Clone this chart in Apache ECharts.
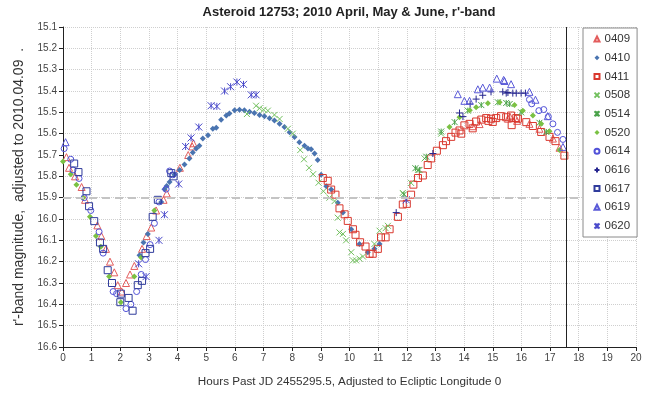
<!DOCTYPE html>
<html>
<head>
<meta charset="utf-8">
<script src="https://cdn.jsdelivr.net/npm/echarts@6/dist/echarts.min.js"></script>
<style>
html,body{margin:0;padding:0;background:#fff}
#chart{width:651px;height:393px}
</style>
</head>
<body>
<div id="chart"></div>
<script>
// Phased r'-band photometry of asteroid 12753, one array per night: [hours, magnitude]
var n0409 = [[0.12,15.71],[0.21,15.76],[0.42,15.80],[0.65,15.85],[0.77,15.91],[1.20,16.03],[1.34,16.08],[1.50,16.14],[1.64,16.20],[1.79,16.25],[1.91,16.31],[2.05,16.34],[2.20,16.30],[2.34,16.26],[2.49,16.22],[2.76,16.14],[2.92,16.08],[3.08,16.04],[3.25,15.96],[3.51,15.91],[3.62,15.88],[4.08,15.76],[4.37,15.70],[4.51,15.66],[4.55,15.645],
  [14.30,15.565],[14.54,15.555],[15.53,15.53],[15.60,15.52],[15.79,15.527],[15.85,15.54],[16.28,15.554],[16.63,15.577],[17.10,15.623],[17.33,15.666]];
var n0410 = [[2.67,16.17],[2.81,16.11],[2.96,16.07],[3.43,15.92],[3.54,15.86],[3.62,15.845],[3.72,15.827],[3.89,15.793],[4.07,15.77],[4.24,15.744],[4.41,15.716],[4.53,15.688],[4.65,15.67],[4.76,15.657],[4.88,15.623],[5.06,15.608],[5.23,15.577],[5.35,15.572],[5.52,15.535],[5.70,15.515],[5.81,15.505],[5.99,15.49],[6.16,15.488],[6.33,15.49],[6.51,15.497],[6.68,15.503],[6.86,15.512],[7.03,15.518],[7.21,15.528],[7.38,15.538],[7.56,15.554],[7.73,15.569],[7.91,15.593],[8.08,15.616],[8.25,15.64],[8.43,15.657],[8.55,15.669],[8.66,15.673],[8.78,15.693],[8.89,15.723],[9.01,15.793],[9.19,15.847],[9.36,15.862],[9.59,15.924],[9.77,15.97],[10.06,16.048],[10.35,16.117],[10.64,16.156],[10.87,16.14],[11.05,16.117]];
var n0411 = [[9.07,15.808],[9.24,15.821],[9.36,15.862],[9.51,15.886],[9.65,15.95],[9.83,15.978],[9.94,16.009],[10.12,16.048],[10.21,16.074],[10.37,16.109],[10.56,16.129],[10.70,16.163],[10.81,16.163],[10.99,16.14],[11.10,16.086],[11.26,16.086],[11.40,16.048],[11.69,15.99],[11.86,15.932],[12.0,15.929],[12.15,15.886],[12.23,15.839],[12.39,15.808],[12.56,15.796],[12.73,15.747],[12.85,15.716],[13.05,15.68],[13.26,15.654],[13.37,15.635],[13.55,15.615],[13.70,15.595],[13.84,15.585],[13.90,15.60],[14.01,15.561],[14.19,15.554],[14.30,15.575],[14.42,15.543],[14.60,15.534],[14.77,15.527],[14.85,15.54],[14.94,15.53],[15.00,15.545],[15.12,15.527],[15.29,15.518],[15.47,15.523],[15.64,15.515],[15.66,15.56],[15.82,15.527],[15.88,15.53],[16.17,15.546],[16.40,15.564],[16.69,15.592],[16.98,15.615],[17.19,15.635],[17.50,15.703]];
var n0508 = [[6.42,15.508],[6.74,15.469],[6.86,15.481],[7.00,15.488],[7.15,15.492],[7.38,15.512],[7.56,15.531],[7.85,15.577],[8.02,15.60],[8.28,15.677],[8.41,15.72],[8.59,15.76],[8.73,15.79],[8.92,15.83],[9.09,15.87],[9.30,15.90],[9.48,15.916],[9.59,15.994],[9.65,16.063],[9.77,16.07],[9.88,16.10],[10.06,16.156],[10.12,16.194],[10.23,16.194],[10.35,16.186],[10.47,16.176],[10.87,16.117],[11.05,16.055],[11.26,16.043],[11.34,16.032],[11.86,15.878],[12.15,15.831],[12.39,15.77],[12.62,15.716],[13.20,15.60]];
var n0514 = [[11.90,15.885],[12.30,15.762],[12.44,15.77],[12.68,15.708],[13.20,15.59],[13.67,15.546],[14.13,15.492],[14.60,15.466],[15.18,15.453],[15.47,15.456],[15.59,15.461],[15.99,15.50],[16.63,15.549],[16.87,15.592]];
var n0520 = [[0.00,15.73],[0.27,15.79],[0.47,15.84],[0.70,15.90],[0.94,15.99],[1.15,16.08],[1.32,16.13],[1.61,16.27],[2.02,16.39],[2.49,16.27],[2.73,16.18],[3.19,15.96],
  [13.49,15.569],[13.84,15.523],[14.20,15.49],[14.42,15.476],[14.83,15.458],[15.24,15.453],[15.76,15.466],[16.05,15.492],[16.40,15.515],[16.69,15.554],[16.98,15.589],[17.33,15.677]];
var n0614 = [[0.04,15.67],[0.27,15.72],[0.35,15.77],[0.56,15.81],[0.74,15.90],[0.97,15.96],[1.26,16.06],[1.40,16.16],[1.75,16.34],[1.87,16.35],[2.20,16.42],[2.37,16.40],[2.57,16.34],[2.73,16.26],[2.88,16.19],[3.04,16.12],[3.19,16.02],[3.35,15.92],[3.60,15.86],[3.72,15.775],[3.83,15.793],
  [16.28,15.44],[16.36,15.46],[16.61,15.492],[16.78,15.487],[16.94,15.52],[17.10,15.554],[17.26,15.594],[17.45,15.627]];
var n0616 = [[11.63,15.97],[12.91,15.693],[13.84,15.503],[13.96,15.52],[14.21,15.461],[14.42,15.438],[14.65,15.42],[14.94,15.404],[15.35,15.404],[15.47,15.41],[15.53,15.407],[15.70,15.41],[15.82,15.41],[15.99,15.41],[16.14,15.41]];
var n0617 = [[0.39,15.74],[0.54,15.78],[0.82,15.87],[0.91,15.94],[1.09,16.01],[1.29,16.11],[1.40,16.14],[1.56,16.24],[1.71,16.30],[2.00,16.39],[2.02,16.35],[2.29,16.37],[2.43,16.43],[2.61,16.31],[2.76,16.29],[2.88,16.16],[3.04,16.14],[3.13,15.99],[3.31,15.91],[3.78,15.785],[3.86,15.80]];
var n0619 = [[0.09,15.64],[13.78,15.415],[14.01,15.446],[14.19,15.446],[14.48,15.392],[14.65,15.384],[14.89,15.384],[15.14,15.342],[15.38,15.348],[15.41,15.353],[15.64,15.368],[16.28,15.404],[16.49,15.441],[16.92,15.518],[17.45,15.662]];
var n0620 = [[2.64,16.21],[2.90,16.27],[3.35,16.10],[3.54,15.98],[4.04,15.836],[4.28,15.66],[4.47,15.62],[4.74,15.569],[5.17,15.469],[5.37,15.472],[5.64,15.40],[5.85,15.38],[6.07,15.358],[6.30,15.369],[6.57,15.418],[6.74,15.418],[11.98,15.91]];

var nights = ['0409','0410','0411','0508','0514','0520','0614','0616','0617','0619','0620'];
var nightData = [n0409,n0410,n0411,n0508,n0514,n0520,n0614,n0616,n0617,n0619,n0620];

// Reference levels: mean magnitude and the end of one rotation period
var meanMag = 15.9;
var periodEnd = 17.55;

var CROSS = 'path://M0,0L10,10M10,0L0,10';
var PLUS = 'path://M5,0L5,10M0,5L10,5';
var STAR = 'path://M0,0L10,10M10,0L0,10M5,0L5,10';

// marker look per night: [symbol, size, colour, filled]
var looks = {
  '0409': ['triangle', 7, '#e35d5d', false],
  '0410': ['diamond', 6, '#4a74b0', true],
  '0411': ['rect', 7, '#d9382e', false],
  '0508': [CROSS, 6, '#72c05e', false],
  '0514': [STAR, 6, '#4aa24a', false],
  '0520': ['diamond', 6, '#7ac143', true],
  '0614': ['circle', 6, '#5252d8', false],
  '0616': [PLUS, 7, '#26268f', false],
  '0617': ['rect', 7, '#303c9c', false],
  '0619': ['triangle', 7, '#5a5ad8', false],
  '0620': [STAR, 7, '#4a4acb', false]
};

var FONT = '"Liberation Sans", Arial, sans-serif';

var series = nights.map(function (name, i) {
  var l = looks[name];
  return {
    name: name,
    type: 'scatter',
    data: nightData[i],
    symbol: l[0],
    symbolSize: l[1],
    itemStyle: l[3]
      ? { color: l[2], borderWidth: 0, opacity: 1 }
      : { color: 'none', borderColor: l[2], borderWidth: 1, opacity: 1 },
    emphasis: { disabled: true },
    z: 3
  };
});

series.push({
  name: 'ref',
  type: 'scatter',
  data: [],
  z: 2,
  markLine: {
    silent: true,
    symbol: 'none',
    animation: false,
    label: { show: false },
    data: [
      { yAxis: meanMag, lineStyle: { color: '#c4c4c4', width: 2, type: [8, 5] } },
      { xAxis: periodEnd, lineStyle: { color: '#222', width: 1, type: 'solid' } }
    ]
  }
});

var chart = echarts.init(document.getElementById('chart'), null, { renderer: 'canvas' });
chart.setOption({
  animation: false,
  backgroundColor: '#ffffff',
  textStyle: { fontFamily: FONT },
  grid: { left: 63, top: 27, right: 15, bottom: 42, containLabel: false },
  graphic: [{
    type: 'text',
    x: 349, y: 12,
    style: {
      text: "Asteroid 12753; 2010 April, May & June, r'-band",
      font: 'bold 13px ' + FONT,
      fill: '#222',
      textAlign: 'center',
      textVerticalAlign: 'middle'
    }
  }],
  legend: {
    data: nights,
    orient: 'vertical',
    left: 583, top: 28,
    padding: [5, 7, 5, 9],
    itemWidth: 5, itemHeight: 5,
    itemGap: 6.7,
    itemTextGap: 4,
    backgroundColor: '#ffffff',
    borderColor: '#8a8a8a',
    borderWidth: 1,
    selectedMode: false,
    textStyle: { fontSize: 11.5, color: '#333', lineHeight: 12, fontFamily: FONT },
    z: 10
  },
  xAxis: {
    type: 'value',
    min: 0, max: 20, interval: 1,
    name: 'Hours Past JD 2455295.5, Adjusted to Ecliptic Longitude 0',
    nameLocation: 'middle',
    nameGap: 29,
    nameTextStyle: { fontSize: 11.7, color: '#333', fontFamily: FONT },
    axisLine: { lineStyle: { color: '#222', width: 1 } },
    axisTick: { show: true, length: 4, lineStyle: { color: '#222' } },
    axisLabel: { fontSize: 10, color: '#444', margin: 6, fontFamily: FONT },
    splitLine: { show: true, lineStyle: { color: '#cfcfcf', type: 'dotted', width: 1 } }
  },
  yAxis: {
    type: 'value',
    inverse: true,
    min: 15.1, max: 16.6, interval: 0.1,
    name: "r'-band magnitude,  adjusted to 2010.04.09  .",
    nameLocation: 'middle',
    nameGap: 32,
    nameRotate: 90,
    nameTextStyle: { fontSize: 14, color: '#333', fontFamily: FONT },
    axisLine: { show: true, lineStyle: { color: '#222', width: 1 } },
    axisTick: { show: true, length: 4, lineStyle: { color: '#222' } },
    axisLabel: {
      fontSize: 10, color: '#444', margin: 6, fontFamily: FONT,
      formatter: function (v) { return v.toFixed(1); }
    },
    splitLine: { show: true, lineStyle: { color: '#cfcfcf', type: 'dotted', width: 1 } }
  },
  series: series
});
</script>
</body>
</html>
